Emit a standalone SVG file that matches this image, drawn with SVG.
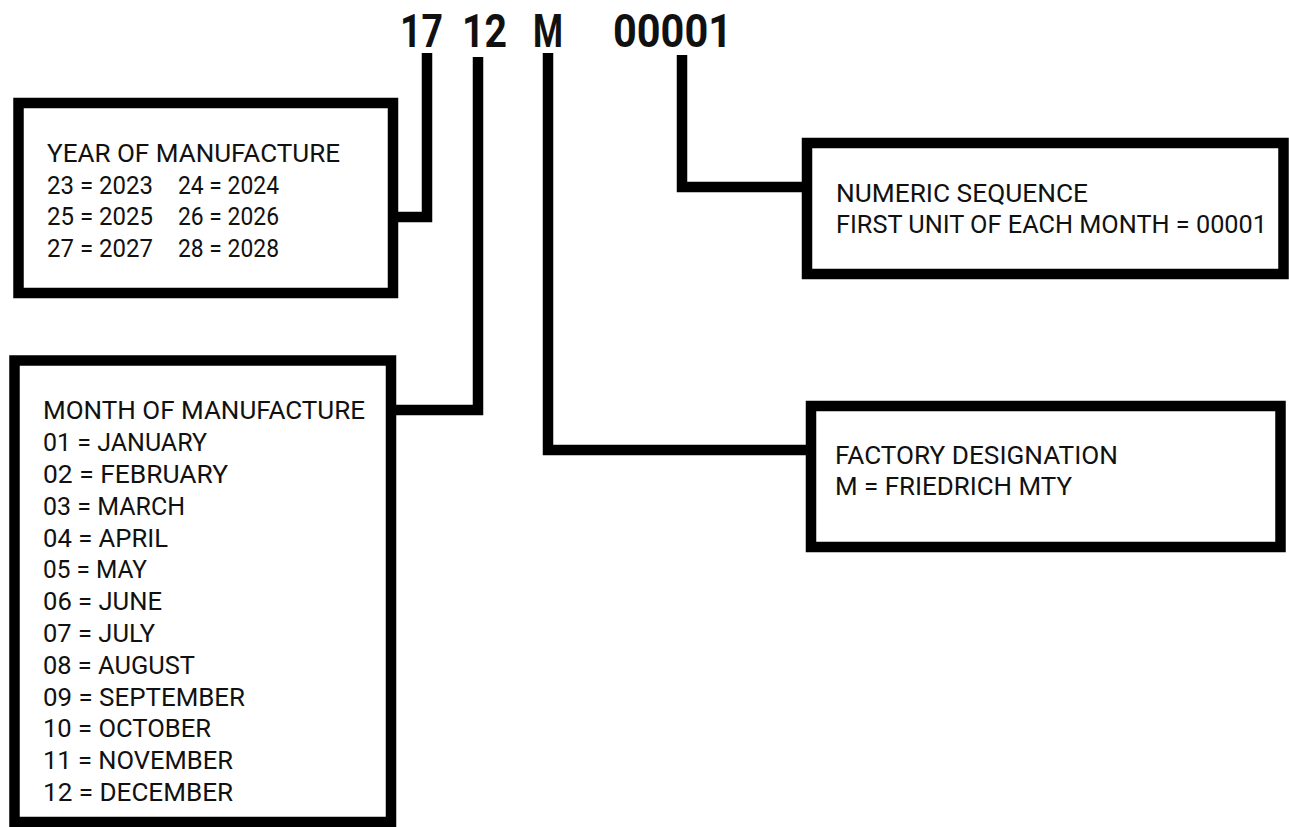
<svg xmlns="http://www.w3.org/2000/svg" width="1289" height="827" viewBox="0 0 1289 827">
<style>
.box{fill:#fff;stroke:#000;stroke-width:10.5}
.conn{fill:none;stroke:#000;stroke-width:10.5;stroke-linejoin:miter;stroke-linecap:butt}
.t{font-family:Roboto,"Liberation Sans",sans-serif;font-size:26.5px;fill:#111}
.title{font-family:Roboto,"Liberation Sans",sans-serif;font-size:47px;font-weight:bold;fill:#111}
</style>
<rect width="1289" height="827" fill="#fff"/>
<g id="title">
<text class="title" x="400" y="47" textLength="43" lengthAdjust="spacingAndGlyphs">17</text>
<text class="title" x="462" y="47" textLength="45" lengthAdjust="spacingAndGlyphs">12</text>
<text class="title" x="533" y="47" textLength="30" lengthAdjust="spacingAndGlyphs">M</text>
<text class="title" x="613" y="47" textLength="119" lengthAdjust="spacingAndGlyphs">00001</text>
</g>
<g id="connectors">
<path class="conn" d="M427,53 V217 H387"/>
<path class="conn" d="M478,57 V410 H394"/>
<path class="conn" d="M548,53 V450 H808"/>
<path class="conn" d="M682,55 V187 H804"/>
</g>
<g id="year">
<rect class="box" x="18.5" y="103" width="374.5" height="190"/>
<text class="t" x="47" y="162" textLength="293" lengthAdjust="spacingAndGlyphs">YEAR OF MANUFACTURE</text>
<text class="t" x="47" y="193.5" textLength="106" lengthAdjust="spacingAndGlyphs">23 = 2023</text>
<text class="t" x="178" y="193.5" textLength="101" lengthAdjust="spacingAndGlyphs">24 = 2024</text>
<text class="t" x="47" y="225" textLength="106" lengthAdjust="spacingAndGlyphs">25 = 2025</text>
<text class="t" x="178" y="225" textLength="101" lengthAdjust="spacingAndGlyphs">26 = 2026</text>
<text class="t" x="47" y="256.5" textLength="106" lengthAdjust="spacingAndGlyphs">27 = 2027</text>
<text class="t" x="178" y="256.5" textLength="101" lengthAdjust="spacingAndGlyphs">28 = 2028</text>
</g>
<g id="month">
<rect class="box" x="14.5" y="360.5" width="376.5" height="461.5"/>
<text class="t" x="43" y="419" textLength="322" lengthAdjust="spacingAndGlyphs">MONTH OF MANUFACTURE</text>
<text class="t" x="43" y="451" textLength="164" lengthAdjust="spacingAndGlyphs">01 = JANUARY</text>
<text class="t" x="43" y="482.5" textLength="185" lengthAdjust="spacingAndGlyphs">02 = FEBRUARY</text>
<text class="t" x="43" y="514.5" textLength="142" lengthAdjust="spacingAndGlyphs">03 = MARCH</text>
<text class="t" x="43" y="546.5" textLength="125" lengthAdjust="spacingAndGlyphs">04 = APRIL</text>
<text class="t" x="43" y="578" textLength="104" lengthAdjust="spacingAndGlyphs">05 = MAY</text>
<text class="t" x="43" y="610" textLength="119" lengthAdjust="spacingAndGlyphs">06 = JUNE</text>
<text class="t" x="43" y="642" textLength="112" lengthAdjust="spacingAndGlyphs">07 = JULY</text>
<text class="t" x="43" y="673.5" textLength="152" lengthAdjust="spacingAndGlyphs">08 = AUGUST</text>
<text class="t" x="43" y="705.5" textLength="202" lengthAdjust="spacingAndGlyphs">09 = SEPTEMBER</text>
<text class="t" x="43" y="737" textLength="168" lengthAdjust="spacingAndGlyphs">10 = OCTOBER</text>
<text class="t" x="43" y="769" textLength="190" lengthAdjust="spacingAndGlyphs">11 = NOVEMBER</text>
<text class="t" x="43" y="801" textLength="190" lengthAdjust="spacingAndGlyphs">12 = DECEMBER</text>
</g>
<g id="numeric">
<rect class="box" x="807" y="143" width="476.5" height="131"/>
<text class="t" x="836" y="202" textLength="252" lengthAdjust="spacingAndGlyphs">NUMERIC SEQUENCE</text>
<text class="t" x="836" y="233" textLength="431" lengthAdjust="spacingAndGlyphs">FIRST UNIT OF EACH MONTH = 00001</text>
</g>
<g id="factory">
<rect class="box" x="811" y="406" width="469.5" height="141"/>
<text class="t" x="835" y="464" textLength="283" lengthAdjust="spacingAndGlyphs">FACTORY DESIGNATION</text>
<text class="t" x="835" y="495" textLength="237" lengthAdjust="spacingAndGlyphs">M = FRIEDRICH MTY</text>
</g>
</svg>
